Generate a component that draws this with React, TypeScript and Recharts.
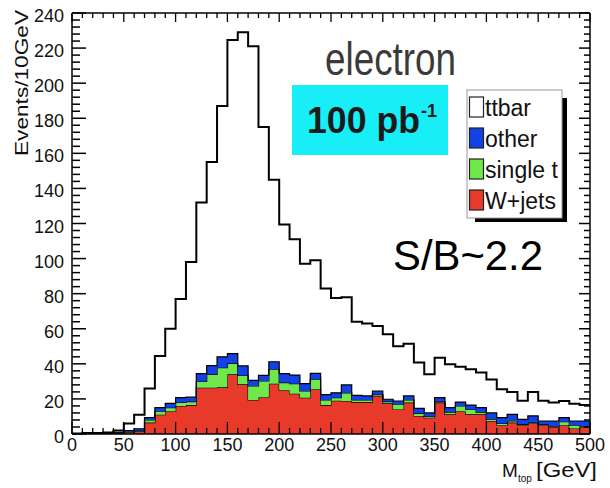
import { ComposedChart, Area, Line, XAxis, YAxis } from 'recharts';

// 10 GeV bins, lower edges
const binLow = [
  0, 10, 20, 30, 40, 50, 60, 70, 80, 90,
  100, 110, 120, 130, 140, 150, 160, 170, 180, 190,
  200, 210, 220, 230, 240, 250, 260, 270, 280, 290,
  300, 310, 320, 330, 340, 350, 360, 370, 380, 390,
  400, 410, 420, 430, 440, 450, 460, 470, 480, 490,
];

// stacked components, events / 10 GeV
const wjets = [
  0, 0, 0, 0, 0.5, 1, 1.5, 6.5, 11, 13,
  16, 16.5, 26.4, 26.4, 26.6, 34, 28.3, 19.4, 21, 28.7,
  25, 23, 20.7, 25.5, 16.5, 19, 18.8, 18.2, 18.2, 21.7,
  17.5, 14, 17.9, 10.3, 9.3, 17.9, 11.2, 13, 11.2, 11.2,
  7.4, 5, 6.5, 5, 6, 5, 4, 5, 3.2, 4,
];
const singleTop = [
  0, 0, 0, 0, 0.2, 0.3, 0.5, 1.5, 2, 2,
  2, 2, 3.6, 7.6, 11.2, 6.3, 5.1, 8, 9.2, 8.2,
  4.3, 5.7, 3.8, 5.7, 2.9, 1.7, 4.7, 1.3, 1.2, 0.8,
  1, 3, 1.6, 1.5, 0.7, 0.6, 1.3, 3, 2.8, 1.3,
  1.1, 1, 1, 0.5, 0.5, 0.5, 0.5, 2, 1.8, 0.5,
];
const other = [
  0, 0, 0, 0, 0.3, 0.7, 1, 1.3, 2, 2.5,
  2.7, 2.5, 4.4, 5, 6.2, 5.5, 5.4, 3.2, 3.2, 4.3,
  5.1, 4.9, 4.2, 3.4, 3.1, 2.8, 4.5, 2.5, 2.3, 2,
  1.3, 1.8, 2.2, 2.8, 2, 2.2, 2.5, 2.2, 2.5, 2.5,
  3.5, 3.3, 3.7, 2.8, 3.8, 1.9, 2.9, 2.3, 2.4, 2.9,
];
const ttbar = [
  0.3, 0.5, 0.5, 0.8, 1, 4, 8, 16.7, 29.5, 42.5,
  56.3, 77, 97.6, 116, 143, 178.8, 190.2, 190.4, 141.6, 103.8,
  85.1, 77.4, 68.3, 64.4, 60.5, 54, 50, 42, 41.3, 37.1,
  37, 31.2, 29.8, 26.1, 22, 22.8, 24.7, 20.2, 20.4, 20,
  19, 16.2, 12.8, 10.7, 13.7, 11.6, 10.6, 9.5, 9.9, 9.1,
];

const xMajorTicks = [0, 50, 100, 150, 200, 250, 300, 350, 400, 450, 500];
const yMajorTicks = [0, 20, 40, 60, 80, 100, 120, 140, 160, 180, 200, 220, 240];
const xTicks = Array.from({ length: 51 }, (_, i) => i * 10);
const yTicks = Array.from({ length: 61 }, (_, i) => i * 4);

const legendItems = [
  { name: 'ttbar', color: '#ffffff' },
  { name: 'other', color: '#1242e6' },
  { name: 'single t', color: '#70e84c' },
  { name: 'W+jets', color: '#e83a2b' },
];

const narrow = '"Liberation Sans Narrow", "Arial Narrow", "Liberation Sans", Arial, sans-serif';
const sans = '"Liberation Sans", Arial, sans-serif';

const rows = binLow.map((lo, i) => ({
  x: lo,
  wjets: wjets[i],
  singleTop: singleTop[i],
  other: other[i],
  ttbar: ttbar[i],
}));
// close the last bin at 500
rows.push({ ...rows[rows.length - 1], x: 500 });

const LeftTick = ({ x, y, payload }: any) => {
  const major = yMajorTicks.includes(payload.value);
  return (
    <g>
      <line x1={x} x2={x + (major ? 14 : 8)} y1={y} y2={y} stroke="#000" strokeWidth={1.5} />
      {major && (
        <text x={x - 8} y={y + 9} textAnchor="end" fontSize={18} fontFamily={narrow} fill="#111">
          {payload.value}
        </text>
      )}
    </g>
  );
};

const RightTick = ({ x, y, payload }: any) => {
  const major = yMajorTicks.includes(payload.value);
  return <line x1={x} x2={x - (major ? 11 : 6)} y1={y} y2={y} stroke="#000" strokeWidth={1.5} />;
};

const BottomTick = ({ x, y, payload }: any) => {
  const major = xMajorTicks.includes(payload.value);
  return (
    <g>
      <line x1={x} x2={x} y1={y} y2={y - (major ? 12 : 6)} stroke="#000" strokeWidth={1.3} />
      {major && (
        <text x={x} y={y + 17} textAnchor="middle" fontSize={18} fontFamily={narrow} fill="#111">
          {payload.value}
        </text>
      )}
    </g>
  );
};

const TopTick = ({ x, y, payload }: any) => {
  const major = xMajorTicks.includes(payload.value);
  return <line x1={x} x2={x} y1={y} y2={y + (major ? 9 : 5)} stroke="#000" strokeWidth={1.3} />;
};

const frame = { stroke: '#000', strokeWidth: 1.5 };

export default function App() {
  return (
    <div style={{ position: 'absolute', left: 0, top: 0, width: 610, height: 488, background: '#fff' }}>
      <ComposedChart width={610} height={488} data={rows} margin={{ top: 12, right: 19, bottom: 0, left: 0 }}>
        <Area type="stepAfter" dataKey="wjets" stackId="s" fill="#e83a2b" fillOpacity={1} stroke="#000" strokeWidth={1.2} isAnimationActive={false} />
        <Area type="stepAfter" dataKey="singleTop" stackId="s" fill="#70e84c" fillOpacity={1} stroke="#000" strokeWidth={1.2} isAnimationActive={false} />
        <Area type="stepAfter" dataKey="other" stackId="s" fill="#1242e6" fillOpacity={1} stroke="#000" strokeWidth={1.2} isAnimationActive={false} />
        <Area type="stepAfter" dataKey="ttbar" stackId="s" fill="#ffffff" fillOpacity={0} stroke="#000" strokeWidth={2} isAnimationActive={false} />
        {/* invisible series so the mirrored top/right frame axes get drawn */}
        <Line xAxisId="top" yAxisId="right" dataKey="ttbar" stroke="none" dot={false} legendType="none" isAnimationActive={false} />
        <XAxis dataKey="x" type="number" domain={[0, 500]} ticks={xTicks} interval={0} height={54}
          axisLine={frame} tickLine={false} tickSize={0} tickMargin={0} tick={BottomTick} allowDataOverflow />
        <XAxis xAxisId="top" orientation="top" dataKey="x" type="number" domain={[0, 500]} ticks={xTicks} interval={0} height={1}
          axisLine={frame} tickLine={false} tickSize={0} tickMargin={0} tick={TopTick} allowDataOverflow />
        <YAxis type="number" domain={[0, 240]} ticks={yTicks} interval={0} width={72}
          axisLine={frame} tickLine={false} tickSize={0} tickMargin={0} tick={LeftTick} allowDataOverflow />
        <YAxis yAxisId="right" orientation="right" type="number" domain={[0, 240]} ticks={yTicks} interval={0} width={1}
          axisLine={frame} tickLine={false} tickSize={0} tickMargin={0} tick={RightTick} allowDataOverflow />
      </ComposedChart>

      <svg width={610} height={488} style={{ position: 'absolute', left: 0, top: 0, pointerEvents: 'none' }}>
        {/* axis titles */}
        <text transform="translate(28,156) rotate(-90)" fontSize={19} fontFamily={sans} fill="#111" textLength={146} lengthAdjust="spacingAndGlyphs">
          Events/10GeV
        </text>
        <text x={502} y={477} fontSize={19} fontFamily={narrow} fill="#111">M</text>
        <text x={518} y={482} fontSize={10} fontFamily={narrow} fill="#111">top</text>
        <text x={597} y={477} textAnchor="end" fontSize={20} fontFamily={narrow} fill="#111" textLength={61} lengthAdjust="spacingAndGlyphs">
          [GeV]
        </text>

        {/* annotations */}
        <text x={325} y={75} fontSize={46} fontFamily={narrow} fill="#3a3a3a" textLength={131} lengthAdjust="spacingAndGlyphs">
          electron
        </text>
        <rect x={292} y={85} width={156} height={70} fill="#17eef6" />
        <text x={307} y={133} fontSize={36} fontWeight="bold" fontFamily={narrow} fill="#1a1a1a" textLength={113} lengthAdjust="spacingAndGlyphs">
          100 pb
        </text>
        <text x={421} y={117} fontSize={18} fontWeight="bold" fontFamily={narrow} fill="#1a1a1a">-1</text>
        <text x={393} y={270} fontSize={43} fontFamily={sans} fill="#000" textLength={150} lengthAdjust="spacingAndGlyphs">
          S/B~2.2
        </text>

        {/* legend */}
        <rect x={562} y={98} width={5} height={124} fill="#000" />
        <rect x={475} y={218} width={92} height={4} fill="#000" />
        <rect x={467} y={90} width={95} height={128} fill="#fff" stroke="#999" strokeWidth={1} />
        {legendItems.map((it, i) => (
          <g key={it.name}>
            <rect x={469.5} y={97 + i * 31} width={14} height={20} fill={it.color} stroke="#222" strokeWidth={1.2} />
            <text x={485} y={116 + i * 31} fontSize={23} fontFamily={narrow} fill="#111">{it.name}</text>
          </g>
        ))}
      </svg>
    </div>
  );
}
